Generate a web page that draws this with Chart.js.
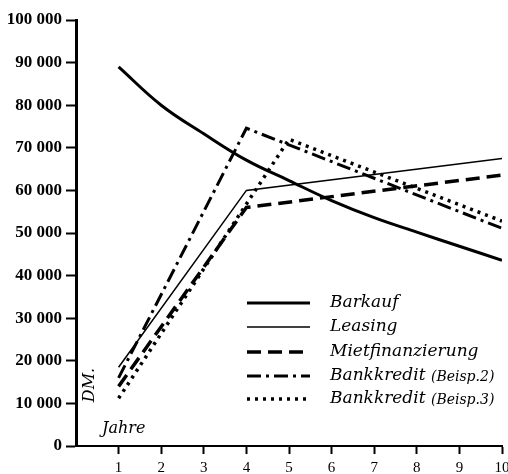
<!DOCTYPE html>
<html>
<head>
<meta charset="utf-8">
<script src="https://cdn.jsdelivr.net/npm/chart.js@4.4.1/dist/chart.umd.min.js"></script>
<style>
  body { margin: 0; background: #fff; }
  canvas { display: block; }
</style>
</head>
<body>
<canvas id="myChart" width="508" height="474"></canvas>
<script>
// values (DM per year)
const barkaufYears = [1, 2, 3, 4, 5, 6, 7, 8, 9, 10];
const barkaufValues = [89000, 80000, 73300, 67100, 62300, 57600, 53600, 50200, 46900, 43600];

const leasingYears = [1, 4, 10];
const leasingValues = [18500, 60000, 67500];

const mietYears = [1, 4, 10];
const mietValues = [14000, 56000, 63600];

const bank2Years = [1, 4, 10];
const bank2Values = [16000, 74600, 51100];

const bank3Years = [1, 5, 10];
const bank3Values = [11200, 72000, 52800];

const yTicks = [0, 10000, 20000, 30000, 40000, 50000, 60000, 70000, 80000, 90000, 100000];
const xTicks = [1, 2, 3, 4, 5, 6, 7, 8, 9, 10];

const legendLabels = ['Barkauf', 'Leasing', 'Mietfinanzierung', 'Bankkredit', 'Bankkredit'];
const legendNotes = ['', '', '', '(Beisp.2)', '(Beisp.3)'];

const pts = (xs, ys) => xs.map((x, i) => ({ x: x, y: ys[i] }));

const ctx = document.getElementById('myChart');

// legend and the two axis captions are drawn by hand
const extras = {
  id: 'extras',
  afterDraw(chart) {
    const c = chart.ctx;
    c.save();
    const rows = [303, 327, 352, 376, 399];
    chart.data.datasets.forEach((ds, i) => {
      const y = rows[i];
      c.beginPath();
      c.strokeStyle = '#000';
      c.lineWidth = ds.borderWidth;
      c.lineCap = ds.borderCapStyle || 'butt';
      c.setLineDash(ds.borderDash || []);
      c.moveTo(247, y);
      c.lineTo(310, y);
      c.stroke();
      c.setLineDash([]);
      c.fillStyle = '#000';
      c.textBaseline = 'middle';
      c.textAlign = 'left';
      c.font = 'italic 17px "DejaVu Serif"';
      c.fillText(legendLabels[i], 330, y);
      if (legendNotes[i]) {
        const w = c.measureText(legendLabels[i] + ' ').width;
        c.font = 'italic 14px "DejaVu Serif"';
        c.fillText(legendNotes[i], 330 + w, y + 1);
      }
    });
    c.font = 'italic 16px "DejaVu Serif"';
    c.textAlign = 'left';
    c.fillText('Jahre', 102, 429);
    c.translate(90, 385);
    c.rotate(-Math.PI / 2);
    c.textAlign = 'center';
    c.font = 'italic 16px "DejaVu Serif"';
    c.fillText('DM.', 0, 0);
    c.restore();
  }
};

new Chart(ctx, {
  type: 'line',
  data: {
    datasets: [
      {
        label: 'Barkauf',
        data: pts(barkaufYears, barkaufValues),
        borderColor: '#000',
        borderWidth: 3,
        tension: 0.4,
        pointRadius: 0
      },
      {
        label: 'Leasing',
        data: pts(leasingYears, leasingValues),
        borderColor: '#000',
        borderWidth: 1.5,
        pointRadius: 0
      },
      {
        label: 'Mietfinanzierung',
        data: pts(mietYears, mietValues),
        borderColor: '#000',
        borderWidth: 3.5,
        borderDash: [14, 7],
        pointRadius: 0
      },
      {
        label: 'Bankkredit (Beisp.2)',
        data: pts(bank2Years, bank2Values),
        borderColor: '#000',
        borderWidth: 3,
        borderDash: [14, 5, 3, 5],
        pointRadius: 0
      },
      {
        label: 'Bankkredit (Beisp.3)',
        data: pts(bank3Years, bank3Values),
        borderColor: '#000',
        borderWidth: 3.5,
        borderDash: [3, 5],
        pointRadius: 0
      }
    ]
  },
  options: {
    responsive: false,
    animation: false,
    devicePixelRatio: 1,
    layout: { padding: { top: 20, right: 6, left: 0, bottom: 0 } },
    plugins: {
      legend: { display: false },
      tooltip: { enabled: false }
    },
    scales: {
      x: {
        type: 'linear',
        min: 0,
        max: 10,
        afterBuildTicks: s => { s.ticks = xTicks.map(v => ({ value: v })); },
        afterFit: s => { s.height = 28; s.paddingLeft = 0; s.paddingRight = 0; },
        border: { display: true, color: '#000', width: 2 },
        grid: { drawOnChartArea: false, drawTicks: true, tickLength: 8, tickColor: '#000', tickWidth: 2 },
        ticks: {
          color: '#000',
          padding: 5,
          maxRotation: 0,
          font: { family: 'Liberation Serif', size: 15 }
        }
      },
      y: {
        min: 0,
        max: 100000,
        afterBuildTicks: s => { s.ticks = yTicks.map(v => ({ value: v })); },
        afterFit: s => { s.width = 76; s.paddingTop = 0; s.paddingBottom = 0; },
        border: { display: true, color: '#000', width: 3 },
        grid: { drawOnChartArea: false, drawTicks: true, tickLength: 10, tickColor: '#000', tickWidth: 2 },
        ticks: {
          color: '#000',
          padding: 4,
          font: { family: 'Liberation Sans Narrow', size: 17, weight: 'bold' },
          callback: v => v >= 1000 ? Math.floor(v / 1000) + ' 000' : String(v)
        }
      }
    }
  },
  plugins: [extras]
});
</script>
</body>
</html>
